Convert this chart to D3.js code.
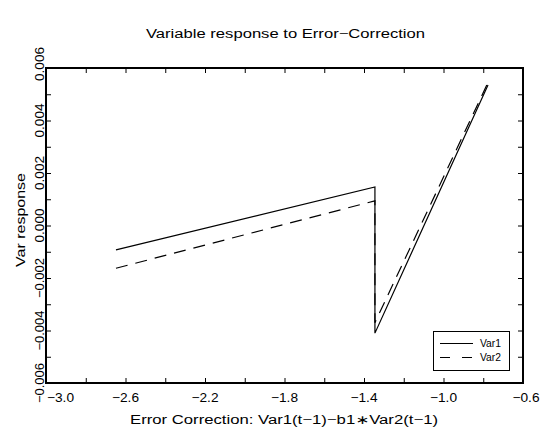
<!DOCTYPE html>
<html>
<head>
<meta charset="utf-8">
<script src="https://cdn.jsdelivr.net/npm/d3@7"></script>
<style>
  body { margin: 0; background: #fff; }
  text { font-family: "Liberation Sans", "DejaVu Sans", sans-serif; fill: #000; }
</style>
</head>
<body>
<svg id="chart" width="553" height="434"></svg>
<script>
// ---- data ----
const xVals = [-2.648, -1.345, -1.345, -0.776];
const var1 = [-0.00093, 0.00147, -0.0041, 0.00535];
const var2 = [-0.00163, 0.00094, -0.0037, 0.00545];
const seriesNames = ["Var1", "Var2"];
const xTickVals = [-3.0, -2.6, -2.2, -1.8, -1.4, -1.0, -0.6];
const xTickLabels = ["\u22123.0", "\u22122.6", "\u22122.2", "\u22121.8", "\u22121.4", "\u22121.0", "\u22120.6"];
const yTickVals = [-0.006, -0.004, -0.002, 0.000, 0.002, 0.004, 0.006];
const yTickLabels = ["\u22120.006", "\u22120.004", "\u22120.002", "0.000", "0.002", "0.004", "0.006"];
const titleText = "Variable response to Error\u2212Correction";
const xTitle = "Error Correction: Var1(t\u22121)\u2212b1\u2217Var2(t\u22121)";
const yTitle = "Var response";

// ---- layout ----
const L = 46, R = 523, T = 68, B = 383;
const svg = d3.select("#chart");
const x = d3.scaleLinear().domain([-3.0, -0.6]).range([L, R]);
const y = d3.scaleLinear().domain([-0.006, 0.006]).range([B, T]);

const xMinor = d3.range(-3.0, -0.59, 0.2);
const yMinor = d3.range(-0.006, 0.00601, 0.001);
const tl = 5;

// ticks on all four sides, inward
svg.append("g").attr("transform", `translate(0,${B})`)
  .call(d3.axisBottom(x).tickValues(xMinor).tickSize(-tl).tickFormat(""))
  .call(g => g.select(".domain").remove());
svg.append("g").attr("transform", `translate(0,${T})`)
  .call(d3.axisTop(x).tickValues(xMinor).tickSize(-tl).tickFormat(""))
  .call(g => g.select(".domain").remove());
svg.append("g").attr("transform", `translate(${L},0)`)
  .call(d3.axisLeft(y).tickValues(yMinor).tickSize(-tl).tickFormat(""))
  .call(g => g.select(".domain").remove());
svg.append("g").attr("transform", `translate(${R},0)`)
  .call(d3.axisRight(y).tickValues(yMinor).tickSize(-tl).tickFormat(""))
  .call(g => g.select(".domain").remove());
svg.selectAll(".tick line").attr("stroke", "#000").attr("stroke-width", 1);

// frame
svg.append("rect").attr("x", L).attr("y", T).attr("width", R - L).attr("height", B - T)
  .attr("fill", "none").attr("stroke", "#000").attr("stroke-width", 2);

// x tick labels
svg.append("g").selectAll("text").data(xTickVals).join("text")
  .attr("x", (d, i) => i === 0 ? x(d) + 1 : x(d) + (i === xTickVals.length - 1 ? 3 : 0))
  .attr("y", 402)
  .attr("text-anchor", (d, i) => i === 0 ? "start" : "middle")
  .attr("font-size", 12.5)
  .attr("textLength", 27).attr("lengthAdjust", "spacingAndGlyphs")
  .text((d, i) => xTickLabels[i]);

// y tick labels (rotated)
svg.append("g").selectAll("text").data(yTickVals).join("text")
  .attr("transform", (d, i) => `translate(44,${i === yTickVals.length - 1 ? y(d) - 4 : y(d)}) rotate(-90)`)
  .attr("text-anchor", "middle")
  .attr("font-size", 12.5)
  .attr("textLength", (d, i) => yTickLabels[i].length === 6 ? 40 : 34)
  .attr("lengthAdjust", "spacingAndGlyphs")
  .text((d, i) => yTickLabels[i]);

// titles
svg.append("text").attr("x", 285.5).attr("y", 38).attr("text-anchor", "middle")
  .attr("font-size", 12.5).attr("textLength", 279).attr("lengthAdjust", "spacingAndGlyphs")
  .text(titleText);
svg.append("text").attr("x", 284).attr("y", 424).attr("text-anchor", "middle")
  .attr("font-size", 12.5).attr("textLength", 308).attr("lengthAdjust", "spacingAndGlyphs")
  .text(xTitle);
svg.append("text").attr("transform", "translate(25,220) rotate(-90)").attr("text-anchor", "middle")
  .attr("font-size", 12.5).attr("textLength", 94).attr("lengthAdjust", "spacingAndGlyphs")
  .text(yTitle);

// lines
const line = d3.line().x(d => x(d[0])).y(d => y(d[1]));
const styles = [null, "12,8"];
[var1, var2].forEach((vals, k) => {
  svg.append("path")
    .datum(xVals.map((xv, i) => [xv, vals[i]]))
    .attr("d", line)
    .attr("fill", "none").attr("stroke", "#000").attr("stroke-width", 1.2)
    .attr("stroke-dasharray", styles[k]);
});

// legend
const lg = svg.append("g");
lg.append("rect").attr("x", 433.5).attr("y", 331.5).attr("width", 76).attr("height", 39)
  .attr("fill", "#fff").attr("stroke", "#000").attr("stroke-width", 1);
seriesNames.forEach((name, k) => {
  const ly = 343.5 + k * 14;
  lg.append("line").attr("x1", 440).attr("x2", 473).attr("y1", ly).attr("y2", ly)
    .attr("stroke", "#000").attr("stroke-width", 1.2)
    .attr("stroke-dasharray", k === 1 ? "10,12" : null);
  lg.append("text").attr("x", 480).attr("y", ly + 3.5).attr("font-size", 10)
    .attr("textLength", 21).attr("lengthAdjust", "spacingAndGlyphs").text(name);
});
</script>
</body>
</html>
